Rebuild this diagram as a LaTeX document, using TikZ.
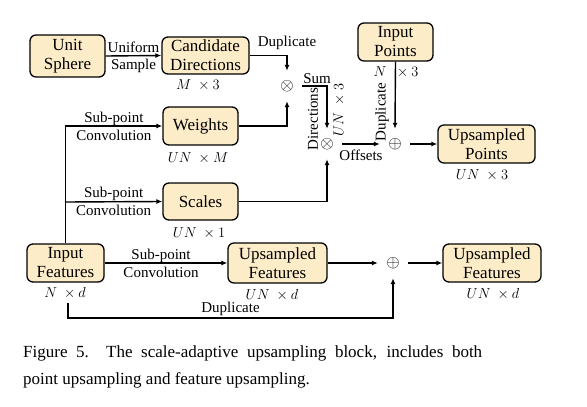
\documentclass[tikz,border=0pt]{standalone}
\usepackage{amsmath}
\usepackage{fontspec}
\setmainfont{Liberation Serif}
\usetikzlibrary{arrows.meta}
\definecolor{boxfill}{RGB}{253,236,200}
\tikzset{
  block/.style={draw, line width=1.3pt, rounded corners=6pt, fill=boxfill, align=center,
    inner sep=0pt, font=\fontsize{17}{19}\selectfont},
  lbl/.style={font=\fontsize{15}{18}\selectfont, align=center, inner sep=0pt},
  dim/.style={font=\fontsize{15}{18}\selectfont, inner sep=0pt},
  op/.style={circle, minimum size=30pt, inner sep=0pt, font=\fontsize{18}{18}\selectfont},
  arr/.style={line width=1.4pt, -{Latex[length=6pt,width=5pt]}},
}
\begin{document}
\begin{tikzpicture}[x=1pt, y=-1pt]
  \useasboundingbox (0,0) rectangle (587,407);
  % blocs
  \node[block, minimum width=75, minimum height=42] (sphere) at (67.5,56) {Unit\\Sphere};
  \node[block, minimum width=87, minimum height=37] (cand) at (205.5,55.5) {Candidate\\Directions};
  \node[block, minimum width=75, minimum height=38] (inpts) at (395.5,42) {Input\\Points};
  \node[block, minimum width=75, minimum height=38] (weights) at (200.5,126) {Weights};
  \node[block, minimum width=75, minimum height=37] (scales) at (200.5,201.5) {Scales};
  \node[block, minimum width=97, minimum height=38] (uppts) at (486.5,144) {Upsampled\\Points};
  \node[block, minimum width=77, minimum height=38] (infeat) at (65.5,263) {Input\\Features};
  \node[block, minimum width=99, minimum height=40] (upfeat) at (277.5,263) {Upsampled\\Features};
  \node[block, minimum width=98, minimum height=38] (outfeat) at (492,263) {Upsampled\\Features};
  % operacions
  \node[op] (mul1) at (287,86) {$\otimes$};
  \node[op] (mul2) at (327,144) {$\otimes$};
  \node[op] (add1) at (395,144) {$\oplus$};
  \node[op] (add2) at (393,263) {$\oplus$};
  % mides
  \node[dim] (dcand) at (198,85) {$M\ \times 3$};
  \node[dim] (dweights) at (198,158) {$UN\ \times M$};
  \node[dim] (dscales) at (199,233) {$UN\ \times 1$};
  \node[dim] (dinfeat) at (65,293) {$N\ \times d$};
  \node[dim] (dupfeat) at (272,295) {$UN\ \times d$};
  \node[dim] (doutfeat) at (493,294) {$UN\ \times d$};
  \node[dim] (duppts) at (482,175) {$UN\ \times 3$};
  \node[dim] (dinpts) at (396,72) {$N\ \ \times 3$};
  \coordinate (split) at (65,202);
  \coordinate (dupstart) at (68,303);
  % fletxes
  \draw[arr] (sphere.east) -- (cand.west)
    node[lbl, midway, above=2pt] {Uniform} node[lbl, midway, below=3pt] {Sample};
  \draw[arr] (cand.east) -| (mul1.north) node[lbl, pos=0.5, above=5pt] {Duplicate};
  \draw[arr] (infeat.north) |- (weights.west) node[lbl, pos=0.75] {Sub-point\\Convolution};
  \draw[arr] (split) -- (scales.west) node[lbl, midway] {Sub-point\\Convolution};
  \draw[arr] (weights.east) -| (mul1.south);
  \draw[arr] (mul1.east) -| (mul2.north) node[lbl, pos=0.3, above=2pt] {Sum};
  \node[lbl, rotate=90] at (313,119) {Directions};
  \node[dim, rotate=90] at (339,110) {$UN\ \times 3$};
  \draw[arr] (scales.east) -| (mul2.south);
  \draw[arr] (mul2.east) -- (add1.west) node[lbl, midway, below=5pt] {Offsets};
  \draw[arr] (inpts.south) -- (add1.north);
  \node[lbl, rotate=90] at (382,112) {Duplicate};
  \draw[arr] (add1.east) -- (uppts.west);
  \draw[arr] (infeat.east) -- (upfeat.west) node[lbl, midway, xshift=-5pt] {Sub-point\\Convolution};
  \draw[arr] (upfeat.east) -- (add2.west);
  \draw[arr] (add2.east) -- (outfeat.west);
  \draw[arr] (dupstart) -- ++(0,15) -| (add2.south) node[lbl, pos=0.25, above=2pt] {Duplicate};
  % peu
  \node[anchor=north west, inner sep=0pt, align=left, font=\fontsize{17}{27}\selectfont] (caption) at (23,346)
    {\makebox[459pt][s]{Figure 5.\ \ The scale-adaptive upsampling block, includes both}\\
     point upsampling and feature upsampling.};
\end{tikzpicture}
\end{document}
